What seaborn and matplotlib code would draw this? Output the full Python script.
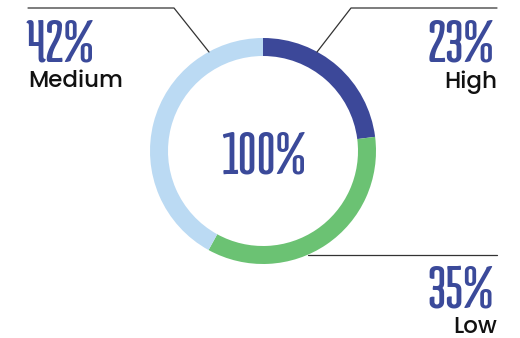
import matplotlib
matplotlib.use("Agg")
import matplotlib.pyplot as plt
import seaborn as sns
from matplotlib import font_manager

sns.set_theme(style="white")

categories = ["High", "Low", "Medium"]
values = [23, 35, 42]
pct_labels = ["23%", "35%", "42%"]
total_label = "100%"
colors = ["#3C4899", "#6BC273", "#BBDAF3"]

names = {f.name for f in font_manager.fontManager.ttflist}
num_fonts = [f for f in ["Medula One", "Pathway Gothic One"] if f in names] + ["DejaVu Sans"]
lab_fonts = [f for f in ["Poppins", "Lato"] if f in names] + ["DejaVu Sans"]

W, H = 520, 338
fig = plt.figure(figsize=(W / 100, H / 100), dpi=100)
ax = fig.add_axes([0, 0, 1, 1])

cx, cy, r = 263, H - 151, 113
ax.pie(values, colors=colors, startangle=90, counterclock=False,
       center=(cx, cy), radius=r, frame=True,
       wedgeprops=dict(width=18, linewidth=0))
ax.set_xlim(0, W)
ax.set_ylim(0, H)
ax.set_aspect("equal")
ax.axis("off")

def Y(y):
    return H - y

lc = "#333333"
ax.plot([28, 174, 209], [Y(8), Y(8), Y(52)], color=lc, lw=0.9)
ax.plot([497, 351, 317], [Y(8), Y(8), Y(52)], color=lc, lw=0.9)
ax.plot([308, 497], [Y(255), Y(255)], color=lc, lw=0.9)

blue = "#3B4A9A"
big = 46
lab = 16.5
dark = "#111111"
ax.text(26, Y(61), pct_labels[2], fontsize=big, family=num_fonts, color=blue,
        ha="left", va="baseline")
ax.text(28, Y(87), categories[2], fontsize=lab, family=lab_fonts, weight=500, color=dark,
        ha="left", va="baseline")
ax.text(494, Y(61), pct_labels[0], fontsize=big, family=num_fonts, color=blue,
        ha="right", va="baseline")
ax.text(497, Y(88), categories[0], fontsize=lab, family=lab_fonts, weight=500, color=dark,
        ha="right", va="baseline")
ax.text(494, Y(308), pct_labels[1], fontsize=big, family=num_fonts, color=blue,
        ha="right", va="baseline")
ax.text(497, Y(333), categories[1], fontsize=lab, family=lab_fonts, weight=500, color=dark,
        ha="right", va="baseline")
ax.text(cx, Y(174), total_label, fontsize=big, family=num_fonts, color=blue,
        ha="center", va="baseline")

fig.savefig("out.png", dpi=100)
